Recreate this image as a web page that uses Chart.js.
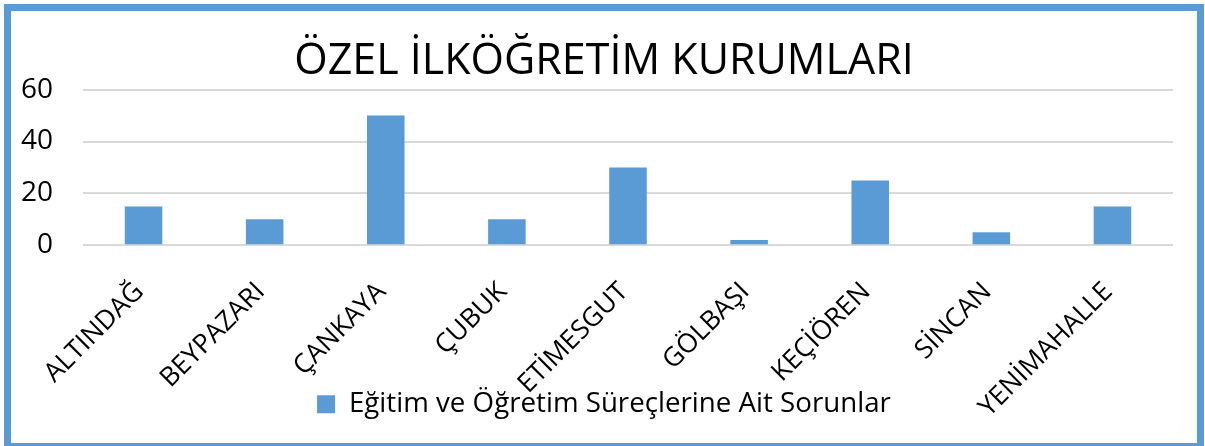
<!DOCTYPE html>
<html>
<head>
<meta charset="utf-8">
<script src="https://cdn.jsdelivr.net/npm/chart.js@4"></script>
<style>
  html, body { margin: 0; padding: 0; background: #fff; overflow: hidden; }
  #frame {
    position: absolute;
    left: 4px;
    top: 4px;
    width: 1186px;
    height: 432px;
    border: 7px solid #5b9bd5;
  }
  canvas { display: block; }
</style>
</head>
<body>
<div id="frame"><canvas id="chart" width="1186" height="432"></canvas></div>
<script>
const TITLE = 'ÖZEL İLKÖĞRETİM KURUMLARI';
const SERIES_NAME = 'Eğitim ve Öğretim Süreçlerine Ait Sorunlar';
const districts = ['ALTINDAĞ', 'BEYPAZARI', 'ÇANKAYA', 'ÇUBUK', 'ETİMESGUT', 'GÖLBAŞI', 'KEÇİÖREN', 'SİNCAN', 'YENİMAHALLE'];
const problems = [15, 10, 50, 10, 30, 2, 25, 5, 15];
const yTicks = [0, 20, 40, 60];

const FONT = '"Open Sans", sans-serif';
const BLUE = '#5b9bd5';

// let the rotated category labels run down past the legend row, like the original
const unclipLabels = {
  id: 'unclipLabels',
  afterLayout(chart) {
    chart.scales.x.bottom = chart.height;
  },
};

new Chart(document.getElementById('chart'), {
  type: 'bar',
  data: {
    labels: districts,
    datasets: [{
      label: SERIES_NAME,
      data: problems,
      backgroundColor: BLUE,
      borderWidth: 0,
      categoryPercentage: 1,
      barPercentage: 0.31,
    }],
  },
  plugins: [unclipLabels],
  options: {
    responsive: false,
    animation: false,
    layout: { padding: { left: 0, right: 0, top: 0, bottom: 15 } },
    plugins: {
      title: {
        display: true,
        text: TITLE,
        color: '#000',
        font: { family: FONT, size: 43, weight: 'normal' },
        padding: { top: 25, bottom: 2 },
      },
      legend: {
        position: 'bottom',
        labels: {
          color: '#000',
          font: { family: FONT, size: 27.7 },
          boxWidth: 18,
          boxHeight: 18,
          padding: 10,
        },
      },
      tooltip: { enabled: false },
    },
    scales: {
      x: {
        grid: { display: false, drawTicks: false },
        border: { display: false },
        ticks: {
          color: '#000',
          font: { family: FONT, size: 26.5 },
          minRotation: 45,
          maxRotation: 45,
          padding: 31,
          labelOffset: -4,
          autoSkip: false,
        },
        afterFit: (scale) => { scale.height = 135; },
      },
      y: {
        min: 0,
        max: 60,
        afterBuildTicks: (scale) => { scale.ticks = yTicks.map((v) => ({ value: v })); },
        grid: { color: '#d9d9d9', lineWidth: 2, drawTicks: false },
        border: { display: false },
        ticks: {
          color: '#000',
          font: { family: FONT, size: 28 },
          padding: 30,
        },
        afterFit: (scale) => { scale.width = 72; },
      },
      gap: {
        position: 'right',
        grid: { display: false, drawTicks: false },
        border: { display: false },
        ticks: { display: false },
        afterFit: (scale) => { scale.width = 24; },
      },
    },
  },
});
</script>
</body>
</html>
